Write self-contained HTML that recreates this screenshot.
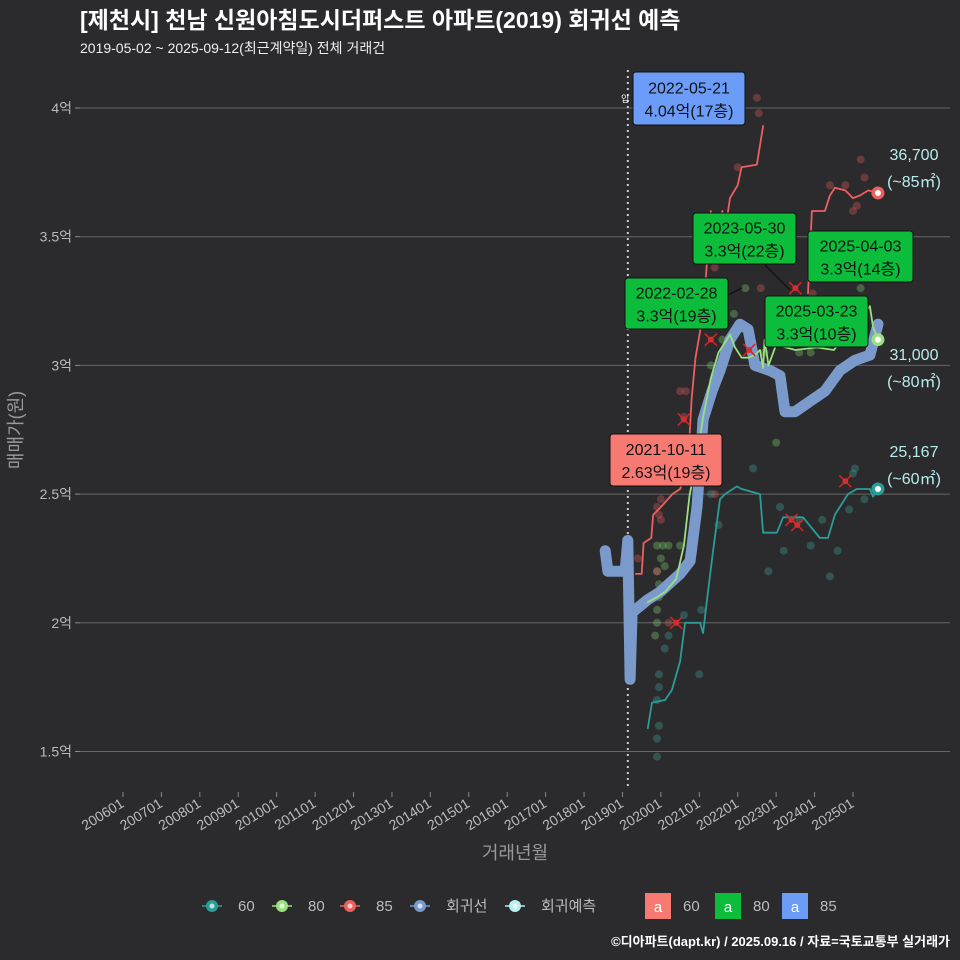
<!DOCTYPE html>
<html><head><meta charset="utf-8">
<style>
body{margin:0;background:#2b2b2d;}
svg{display:block;font-family:"Liberation Sans","Noto Sans CJK KR",sans-serif;}
</style></head>
<body>
<svg id="c" width="960" height="960" viewBox="0 0 960 960">
<rect width="960" height="960" fill="#2b2b2d"/>
<text x="80" y="28" fill="#fff" font-size="23" font-weight="bold">[제천시] 천남 신원아침도시더퍼스트 아파트(2019) 회귀선 예측</text>
<text x="80" y="53" fill="#eee" font-size="14">2019-05-02 ~ 2025-09-12(최근계약일) 전체 거래건</text>
<g id="grid"></g><g id="xaxis"></g><g id="marks"></g><g id="ann"></g>
<text transform="translate(22,430) rotate(-90)" text-anchor="middle" fill="#999" font-size="18">매매가(원)</text>
<text x="515" y="859" text-anchor="middle" fill="#999" font-size="18">거래년월</text>
<g id="legend" font-size="15" fill="#bbb"></g>
<text x="950" y="946" text-anchor="end" fill="#fff" font-size="13" font-weight="bold">©디아파트(dapt.kr) / 2025.09.16 / 자료=국토교통부 실거래가</text>
</svg>
<script>
const yTicks=[1.5,2,2.5,3,3.5,4];
const yTickLabels=["1.5억","2억","2.5억","3억","3.5억","4억"];
const xTicks=[2006,2007,2008,2009,2010,2011,2012,2013,2014,2015,2016,2017,2018,2019,2020,2021,2022,2023,2024,2025];
const xTickLabels=["200601","200701","200801","200901","201001","201101","201201","201301","201401","201501","201601","201701","201801","201901","202001","202101","202201","202301","202401","202501"];
const line85a=[[2019.35,2.19],[2019.5,2.19],[2019.55,2.31],[2019.75,2.33],[2019.8,2.42],[2020.0,2.45],[2020.3,2.5],[2020.5,2.52],[2020.7,2.6],[2020.8,2.87],[2020.9,3.03],[2021.1,3.2],[2021.3,3.6],[2021.4,3.45],[2021.5,3.55],[2021.6,3.6],[2021.65,3.5],[2021.8,3.65],[2022.0,3.7],[2022.1,3.77],[2022.5,3.78],[2022.66,3.93]];
const line85b=[[2023.83,3.28],[2023.93,3.6],[2024.27,3.6],[2024.4,3.66],[2024.53,3.69],[2024.8,3.68],[2025.0,3.65],[2025.18,3.66],[2025.4,3.68],[2025.65,3.67]];
const line80=[[2019.66,2.08],[2019.9,2.1],[2020.11,2.12],[2020.4,2.17],[2020.6,2.3],[2020.75,2.5],[2020.9,2.6],[2021.1,2.8],[2021.3,2.95],[2021.5,3.05],[2021.8,3.12],[2021.93,3.07],[2022.1,3.03],[2022.27,3.03],[2022.45,3.04],[2022.58,3.06],[2022.66,2.99],[2022.7,3.1],[2022.8,3.0],[2023.0,3.08],[2023.5,3.06],[2024.06,3.07],[2024.5,3.06],[2025.0,3.15],[2025.44,3.23],[2025.52,3.15],[2025.65,3.1]];
const line60=[[2019.66,1.59],[2019.77,1.69],[2020.11,1.7],[2020.29,1.74],[2020.5,1.85],[2020.63,2.0],[2021.02,2.0],[2021.1,1.96],[2021.2,2.09],[2021.36,2.28],[2021.54,2.48],[2021.67,2.5],[2021.98,2.53],[2022.1,2.52],[2022.58,2.5],[2022.66,2.35],[2023.02,2.35],[2023.18,2.41],[2023.7,2.41],[2024.14,2.33],[2024.35,2.33],[2024.53,2.42],[2024.87,2.5],[2025.1,2.52],[2025.44,2.52],[2025.52,2.49],[2025.65,2.52]];
const regLine=[[2018.55,2.28],[2018.62,2.2],[2019.07,2.2],[2019.14,2.32],[2019.2,1.78],[2019.25,2.04],[2019.66,2.09],[2019.98,2.12],[2020.5,2.19],[2020.76,2.24],[2020.94,2.45],[2021.1,2.79],[2021.33,2.9],[2021.54,2.98],[2021.8,3.1],[2022.06,3.16],[2022.27,3.14],[2022.45,3.0],[2022.84,2.98],[2023.1,2.96],[2023.23,2.82],[2023.49,2.82],[2023.88,2.86],[2024.27,2.9],[2024.66,2.98],[2025.05,3.02],[2025.44,3.04],[2025.65,3.16]];
const pts85=[[2021.4,3.38],[2022.0,3.77],[2022.5,4.04],[2022.55,3.98],[2022.6,3.3],[2020.6,2.8],[2020.5,2.9],[2020.65,2.9],[2019.9,2.45],[2019.95,2.42],[2020.0,2.48],[2020.0,2.4],[2019.9,2.2],[2020.2,2.0],[2021.4,2.5],[2024.4,3.7],[2024.8,3.7],[2025.0,3.6],[2025.2,3.8],[2025.3,3.73],[2023.95,3.28],[2025.1,3.62],[2019.4,2.25]];
const pts80=[[2019.9,2.0],[2019.9,2.05],[2019.95,2.1],[2019.95,2.15],[2019.9,2.2],[2020.0,2.25],[2020.05,2.3],[2019.9,2.3],[2019.85,1.95],[2020.1,2.22],[2020.2,2.3],[2021.9,3.2],[2022.2,3.3],[2022.0,3.15],[2023.0,2.7],[2023.6,3.05],[2023.9,3.05],[2024.5,3.1],[2025.2,3.3],[2021.3,3.0],[2020.5,2.3],[2021.6,3.1],[2022.7,3.05]];
const pts60=[[2019.9,1.55],[2019.95,1.6],[2019.9,1.7],[2019.95,1.75],[2019.95,1.8],[2020.1,1.9],[2020.2,1.95],[2020.6,2.03],[2021.0,1.8],[2021.05,2.05],[2021.3,2.5],[2021.5,2.38],[2022.4,2.6],[2022.8,2.2],[2023.1,2.45],[2023.2,2.28],[2023.6,2.4],[2023.9,2.3],[2024.2,2.4],[2024.4,2.18],[2024.6,2.28],[2025.0,2.58],[2025.05,2.6],[2025.3,2.48],[2024.9,2.44],[2019.9,1.48]];
const crossPts=[[2020.6,2.79],[2020.4,2.0],[2021.3,3.1],[2023.4,2.4],[2023.55,2.38],[2024.8,2.55],[2022.3,3.06],[2023.5,3.3]];

const X=t=>123+(t-2006)*38.42;
const Y=v=>108+(4-v)*257.4;
const NS='http://www.w3.org/2000/svg';
function mk(tag,parent,attrs){const e=document.createElementNS(NS,tag);for(const k in attrs)e.setAttribute(k,attrs[k]);parent.appendChild(e);return e;}
const grid=document.getElementById('grid'),xa=document.getElementById('xaxis'),marks=document.getElementById('marks'),ann=document.getElementById('ann'),lg=document.getElementById('legend');
yTicks.forEach((v,i)=>{
 const l=mk('line',grid,{x1:80,x2:950,y1:Y(v),y2:Y(v),stroke:'#666','stroke-width':1});
 
 
 const tk=mk('line',grid,{x1:75,x2:80,y1:Y(v),y2:Y(v),stroke:'#888'});
 
 
 const t=mk('text',grid,{x:72,y:Y(v)+5,'text-anchor':'end',fill:'#bbb','font-size':14});
 t.textContent=yTickLabels[i];
 
 
});
xTicks.forEach((d,i)=>{
 const tk=mk('line',xa,{x1:X(d),x2:X(d),y1:792,y2:797,stroke:'#888'});
 
 
 const t=mk('text',xa,{transform:`translate(${X(d)+2},${806}) rotate(-32)`,'text-anchor':'end',fill:'#bbb','font-size':14});
 t.textContent=xTickLabels[i];
 
 
});
const vl=mk('line',marks,{x1:X(2019.14),x2:X(2019.14),y1:70,y2:790,stroke:'#ccc','stroke-width':2,'stroke-dasharray':'2,4'});


const P=a=>a.map(p=>X(p[0]).toFixed(1)+','+Y(p[1]).toFixed(1)).join(' ');
function dots(arr,col,name){arr.forEach(p=>{const c=mk('circle',marks,{cx:X(p[0]),cy:Y(p[1]),r:4,fill:col,'fill-opacity':0.35});
 
 });}
dots(pts60,'#3fa39a','point-60');dots(pts80,'#7fcf6a','point-80');dots(pts85,'#d95a5a','point-85');
function pl(arr,col,w,name){const e=mk('polyline',marks,{points:P(arr),fill:'none',stroke:col,'stroke-width':w,'stroke-linejoin':'round','stroke-linecap':'round'});
 
 return e;}
pl(regLine,'#7b9acc',11,'regression-line');
pl(line60,'#2a9d99',1.8,'line-60');
pl(line80,'#99e07f',1.8,'line-80');
pl(line85a,'#ee5f5f',1.8,'line-85-a');
pl(line85b,'#ee5f5f',1.8,'line-85-b');
crossPts.forEach(p=>{const x=X(p[0]),y=Y(p[1]);
 const g=mk('path',marks,{d:`M${x-6},${y-6}L${x+6},${y+6}M${x-6},${y+6}L${x+6},${y-6}`,stroke:'#e02020','stroke-width':1.5});
 
 
 const c=mk('circle',marks,{cx:x,cy:y,r:3,fill:'#d03030'});
 
 });
[[line85b,'#ee5f5f','end-85'],[line80,'#99e07f','end-80'],[line60,'#2a9d99','end-60']].forEach(([a,c,n])=>{const p=a[a.length-1];
 const o=mk('circle',marks,{cx:X(p[0]),cy:Y(p[1]),r:6.5,fill:c});
 
 
 const i=mk('circle',marks,{cx:X(p[0]),cy:Y(p[1]),r:3,fill:'#fff'});
 
 });
function box(x,y,w,h,fill,l1,l2,name){const g=mk('g',ann,{});
 
 
 mk('rect',g,{x,y,width:w,height:h,rx:3,fill,stroke:'#111','stroke-width':1});
 const a=mk('text',g,{x:x+w/2,y:y+h/2-5,'text-anchor':'middle','font-size':16,fill:'#111'});a.textContent=l1;
 const b=mk('text',g,{x:x+w/2,y:y+h/2+18,'text-anchor':'middle','font-size':16,fill:'#111'});b.textContent=l2;}
function lead(x1,y1,x2,y2){const l=mk('line',ann,{x1,y1,x2,y2,stroke:'#111','stroke-width':1.5});
 
 }
lead(765,265,790,290);lead(728,295,742,288);
box(633,72,112,53,'#6a9cf8','2022-05-21','4.04억(17층)','annotation-max-85');
box(693,213,103,51,'#0bbd3a','2023-05-30','3.3억(22층)','annotation-80-2023');
box(808,231,105,51,'#0bbd3a','2025-04-03','3.3억(14층)','annotation-80-2025-04');
box(625,278,103,51,'#0bbd3a','2022-02-28','3.3억(19층)','annotation-80-2022');
box(765,296,103,51,'#0bbd3a','2025-03-23','3.3억(10층)','annotation-80-2025-03');
box(610,434,112,52,'#f77a72','2021-10-11','2.63억(19층)','annotation-60');
[['36,700','(~85㎡)',160,'label-85'],['31,000','(~80㎡)',360,'label-80'],['25,167','(~60㎡)',457,'label-60']].forEach(([a,b,y,n])=>{
 const t=mk('text',ann,{x:914,y,'text-anchor':'middle',fill:'#b8ecec','font-size':16});t.textContent=a;
 
 
 const u=mk('text',ann,{x:914,y:y+27,'text-anchor':'middle',fill:'#b8ecec','font-size':16});u.textContent=b;
 
 });
const vt=mk('text',ann,{x:621,y:102,fill:'#fff','font-size':9});vt.textContent='입';


[[212,'#2a9d99','60'],[282,'#99e07f','80'],[350,'#ee5f5f','85'],[420,'#7b9acc','회귀선'],[515,'#b8f0f0','회귀예측']].forEach(([x,c,t])=>{
 const g=mk('g',lg,{});
 
 
 mk('line',g,{x1:x-10,x2:x+10,y1:906,y2:906,stroke:c,'stroke-width':1.5});
 mk('circle',g,{cx:x,cy:906,r:6,fill:c});
 mk('circle',g,{cx:x,cy:906,r:2.5,fill:'#fff','fill-opacity':0.7});
 const tx=mk('text',g,{x:x+26,y:911});tx.textContent=t;});
[[645,'#f77a72','60'],[715,'#0bbd3a','80'],[782,'#6a9cf8','85']].forEach(([x,c,t])=>{
 const g=mk('g',lg,{});
 
 
 mk('rect',g,{x,y:893,width:26,height:26,fill:c});
 const a=mk('text',g,{x:x+13,y:912,'text-anchor':'middle',fill:'#fff','font-size':15});a.textContent='a';
 const tx=mk('text',g,{x:x+38,y:911});tx.textContent=t;});
</script>
</body></html>
